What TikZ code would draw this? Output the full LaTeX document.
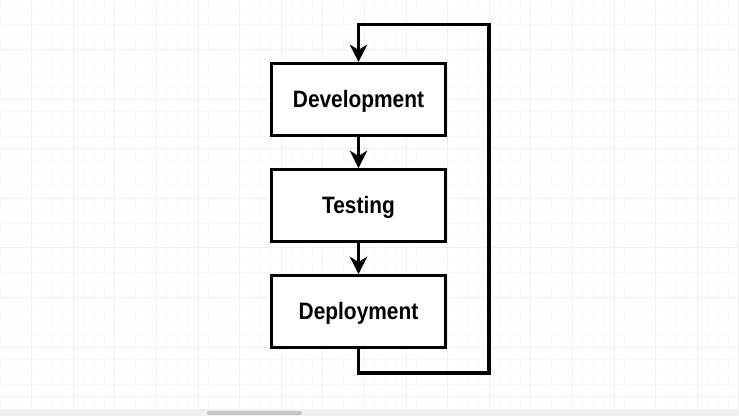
\documentclass[tikz,border=0pt]{standalone}
\usepackage{fontspec}
\newfontfamily\stagefont[FakeStretch=0.88]{Liberation Sans}
\usetikzlibrary{arrows.meta,positioning}
\definecolor{gridminor}{HTML}{F8F8F8}
\definecolor{gridmajor}{HTML}{EFEFEF}
\definecolor{barbg}{HTML}{F1F1F1}
\definecolor{barthumb}{HTML}{C6C6C6}

\begin{document}
\begin{tikzpicture}[
  x=0.75pt, y=-0.75pt,
  node distance=23.25pt,
  stage/.style={rectangle, draw, line width=2.3pt, fill=white,
                minimum width=130.5pt, minimum height=54pt,
                text height=12.5pt, text depth=0pt,
                font=\stagefont\bfseries\fontsize{17.8}{20}\selectfont},
  flow/.style={draw, line width=2.3pt,
               -{Stealth[length=13pt, width=13pt, inset=4pt]}},
  gridline/.style={line width=0.75pt},
]
  \useasboundingbox (0,0) rectangle (739,416);

  % background grid
  \fill[white] (0,0) rectangle (739,416);
  \foreach \i in {0,...,71}
    \draw[gridline, gridminor] ({0.5+10.4*\i},0) -- ({0.5+10.4*\i},409);
  \foreach \k in {0,...,32}
    \draw[gridline, gridminor] (0,{12.4*\k}) -- (739,{12.4*\k});
  \foreach \i in {0,...,17}
    \draw[gridline, gridmajor] ({31.7+41.6*\i},0) -- ({31.7+41.6*\i},409);
  \foreach \k in {0,...,8}
    \draw[gridline, gridmajor] (0,{49.6*\k}) -- (739,{49.6*\k});

  % scroll bar
  \fill[barbg] (0,409) rectangle (739,416);
  \fill[barthumb, rounded corners=1.5pt] (207,411) rectangle (302,415);

  \node[stage] (dev) at (358.5,99.5) {Development};
  \node[stage, below=of dev] (test) {Testing};
  \node[stage, below=of test] (deploy) {Deployment};

  \coordinate (loopbot) at (489,373);
  \coordinate (looptop) at (489,24.5);

  \draw[flow] (dev) -- (test);
  \draw[flow] (test) -- (deploy);
  \draw[flow] (deploy.south) |- (loopbot) -- (looptop) -| (dev.north);
\end{tikzpicture}
\end{document}
